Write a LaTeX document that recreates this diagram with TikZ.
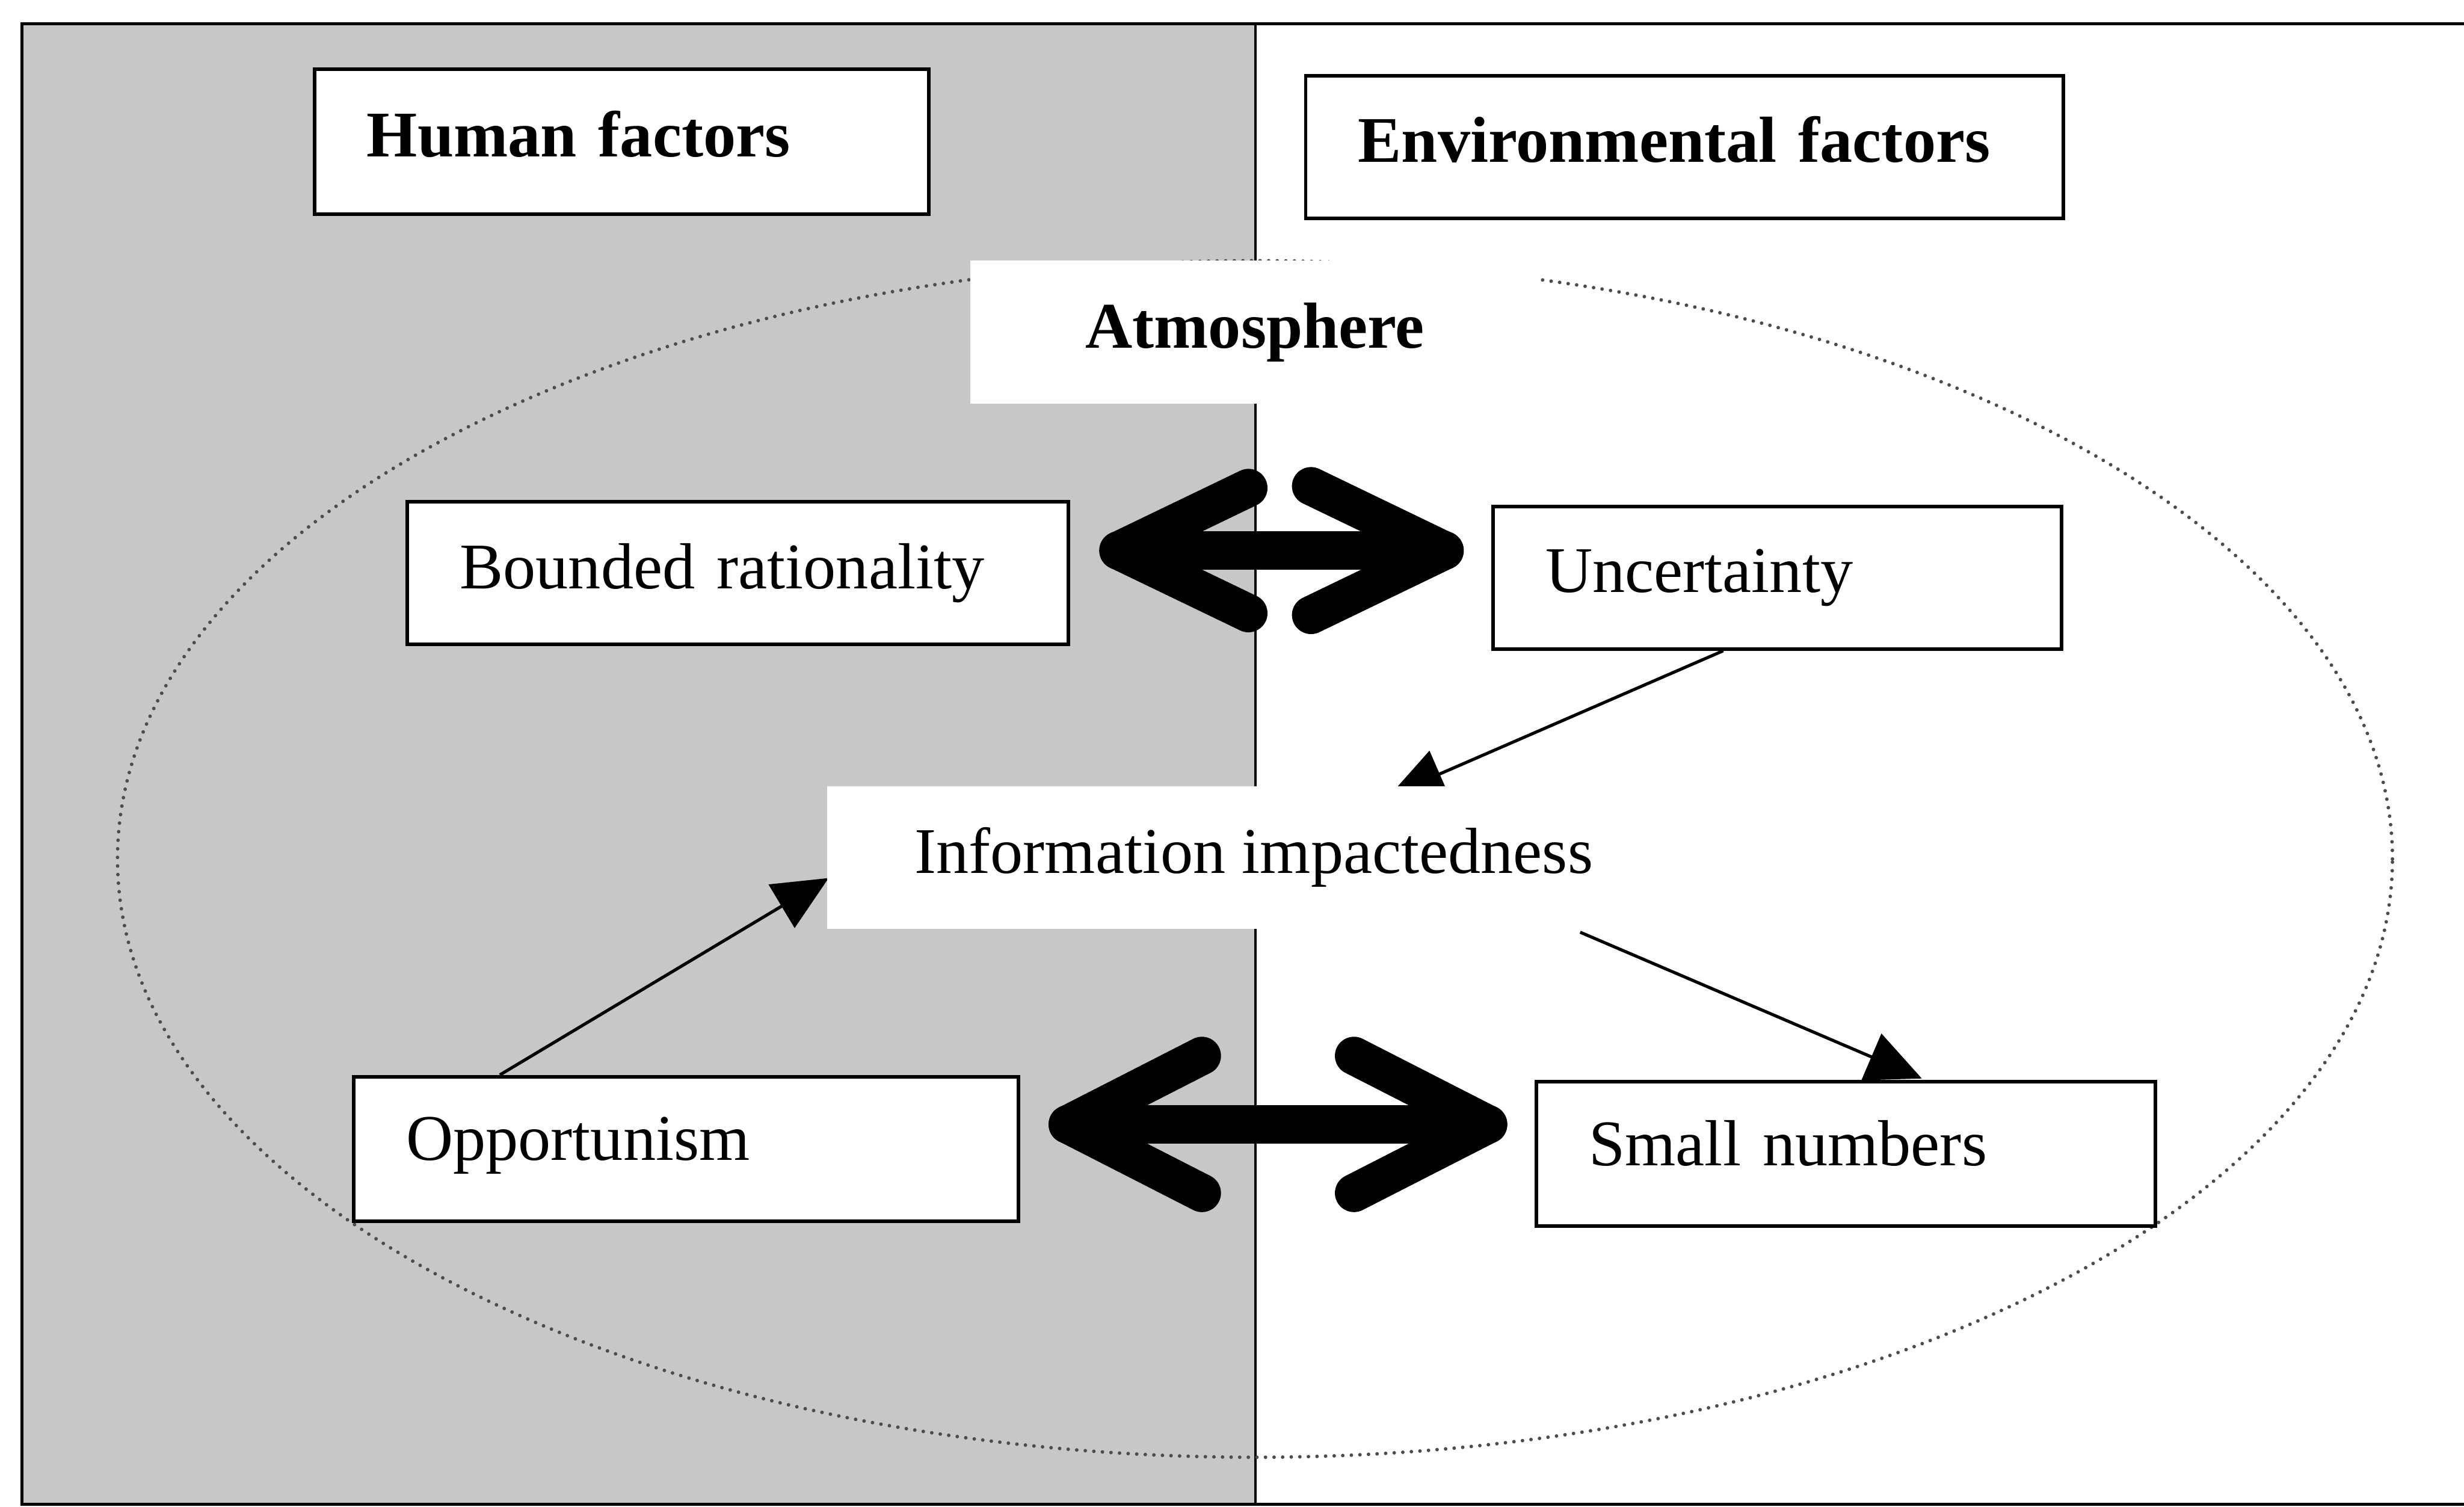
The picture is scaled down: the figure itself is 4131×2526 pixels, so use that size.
\documentclass[tikz,border=0pt]{standalone}
\usepackage{fontspec}
\setmainfont{Liberation Serif}
\usetikzlibrary{calc,arrows.meta}
\pgfdeclarelayer{under}
\pgfsetlayers{under,main}
\definecolor{halftone}{gray}{0.78}
\definecolor{rimgray}{gray}{0.3}

\begin{document}
\fontsize{27.3pt}{32pt}\selectfont
\begin{tikzpicture}[x=0.25pt,y=-0.25pt,
  factor/.style={draw=black, line width=1.5pt, fill=white, anchor=north west,
                 inner xsep=22pt, inner ysep=0pt, align=left},
  plainlabel/.style={fill=white, inner sep=0pt},
  heavy/.style={line width=16pt, line cap=round, line join=round},
  link/.style={line width=1.3pt, -{Triangle[length=23pt,width=21pt]}},
  rim/.style={draw=rimgray, line width=1.5pt, line cap=round, dash pattern=on 0pt off 3.6pt}
]
\useasboundingbox (0,0) rectangle (4131,2526);

% factor boxes (each label kept on one unstretched line)
\node[factor, font=\bfseries, text width=213.5pt, minimum height=60.75pt, text depth=6.6pt] (hf)  at (524,113)  {\mbox{Human factors}};
\node[factor, font=\bfseries, text width=273.5pt, minimum height=59.75pt, text depth=6.6pt] (ef)  at (2186,124) {\mbox{Environmental factors}};
\node[factor, text width=233pt,    minimum height=59.75pt] (br)  at (680,838)  {\mbox{Bounded rationality}};
\node[factor, text width=194.25pt, minimum height=59.75pt] (unc) at (2500,846) {\mbox{Uncertainty}};
\node[factor, text width=234.5pt,  minimum height=60.5pt, text depth=8.5pt] (opp) at (590,1802) {\mbox{Opportunism}};
\node[factor, text width=215.5pt,  minimum height=60.5pt, text depth=9pt]   (sn)  at (2573,1810) {\mbox{Small numbers}};

% borderless labels
\node[plainlabel, font=\bfseries, minimum width=238.5pt, minimum height=60pt] (atm) at (2104,557) {Atmosphere};
\node[plainlabel, minimum width=357.5pt, minimum height=59.75pt] (info) at (2102,1437.5) {Information impactedness};

% background, divider, atmosphere ellipse and thin links
\begin{pgfonlayer}{under}
  \fill[halftone] (37,40) rectangle (2105,2522);
  \draw[line width=1pt] (2105,40) -- (2105,2522);
  \draw[rim] (2104,1440) ellipse [x radius=476.75pt, y radius=250.75pt];
  \draw[link] ($(unc.south west)+(389,0)$) -- ($(info.north west)+(943,17)$);
  \draw[link] ($(opp.north west)+(248,0)$) -- ($(info.west)+(3,34.5)$);
  \draw[link] ($(info.south west)+(1263,5)$) -- ($(sn.north west)+(649,-2)$);
\end{pgfonlayer}

% heavy two-way arrows
\coordinate (ua) at ($(br.east)+(81,-37.5)$);
\coordinate (ub) at ($(unc.west)+(-78,-45.5)$);
\draw[heavy] (ua) -- (ub);
\draw[heavy] (ua) ++(218,-105) -- (ua) -- ++(218,105);
\draw[heavy] (ub) ++(-224,-108) -- (ub) -- ++(-224,108);

\coordinate (la) at ($(opp.east)+(80,-41)$);
\coordinate (lb) at ($(sn.west)+(-78,-49)$);
\draw[heavy] (la) -- (lb);
\draw[heavy] (la) ++(225,-115) -- (la) -- ++(225,115);
\draw[heavy] (lb) ++(-225,-115) -- (lb) -- ++(-225,115);

% outer frame
\draw[line width=1.3pt] (4131,40) -- (37,40) -- (37,2522) -- (4131,2522);
\end{tikzpicture}
\end{document}
